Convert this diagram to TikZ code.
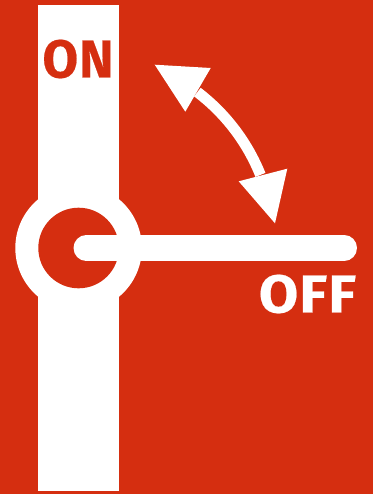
\documentclass[tikz,border=0pt]{standalone}
\usepackage{fontspec}
\setmainfont{Fira Sans}[BoldFont={Fira Sans Bold},BoldFeatures={FakeBold=0.4,LetterSpace=2}]
\definecolor{signred}{HTML}{D52E10}
\tikzset{
  px/.style={x=0.75pt,y=-0.75pt},
  whitefill/.style={fill=white,draw=none},
  signlabel/.style={font=\fontsize{40}{40}\selectfont\bfseries,inner sep=0pt,anchor=center},
}
\begin{document}
\begin{tikzpicture}[px]
\useasboundingbox (0,0) rectangle (373,494);
\fill[signred] (0,0) rectangle (373,494);
% vertical bar
\fill[whitefill] (38,5) rectangle (119,491);
% hub ring
\fill[whitefill] (78.6,248) circle[radius=63.3];
\fill[signred] (78.6,248) circle[radius=40.3];
% handle
\draw[white,line width=19.05pt,line cap=round] (86.2,248) -- (344.3,248);
% double arrow
\draw[white,line width=8.1pt] (78.6,248) ++(-52.7:196) arc[start angle=-52.7,end angle=-21.9,radius=196];
\fill[whitefill] (154.7,64.7) -- (210.7,68) -- (185.3,111.7) -- cycle;
\fill[whitefill] (275,223.3) -- (287.3,168.7) -- (238.7,181.3) -- cycle;
% labels
\node[signlabel,text=signred,xscale=0.97] (on) at (78,59) {ON};
\node[signlabel,text=white,xscale=1.07] (off) at (307.5,294) {OFF};
\end{tikzpicture}
\end{document}
